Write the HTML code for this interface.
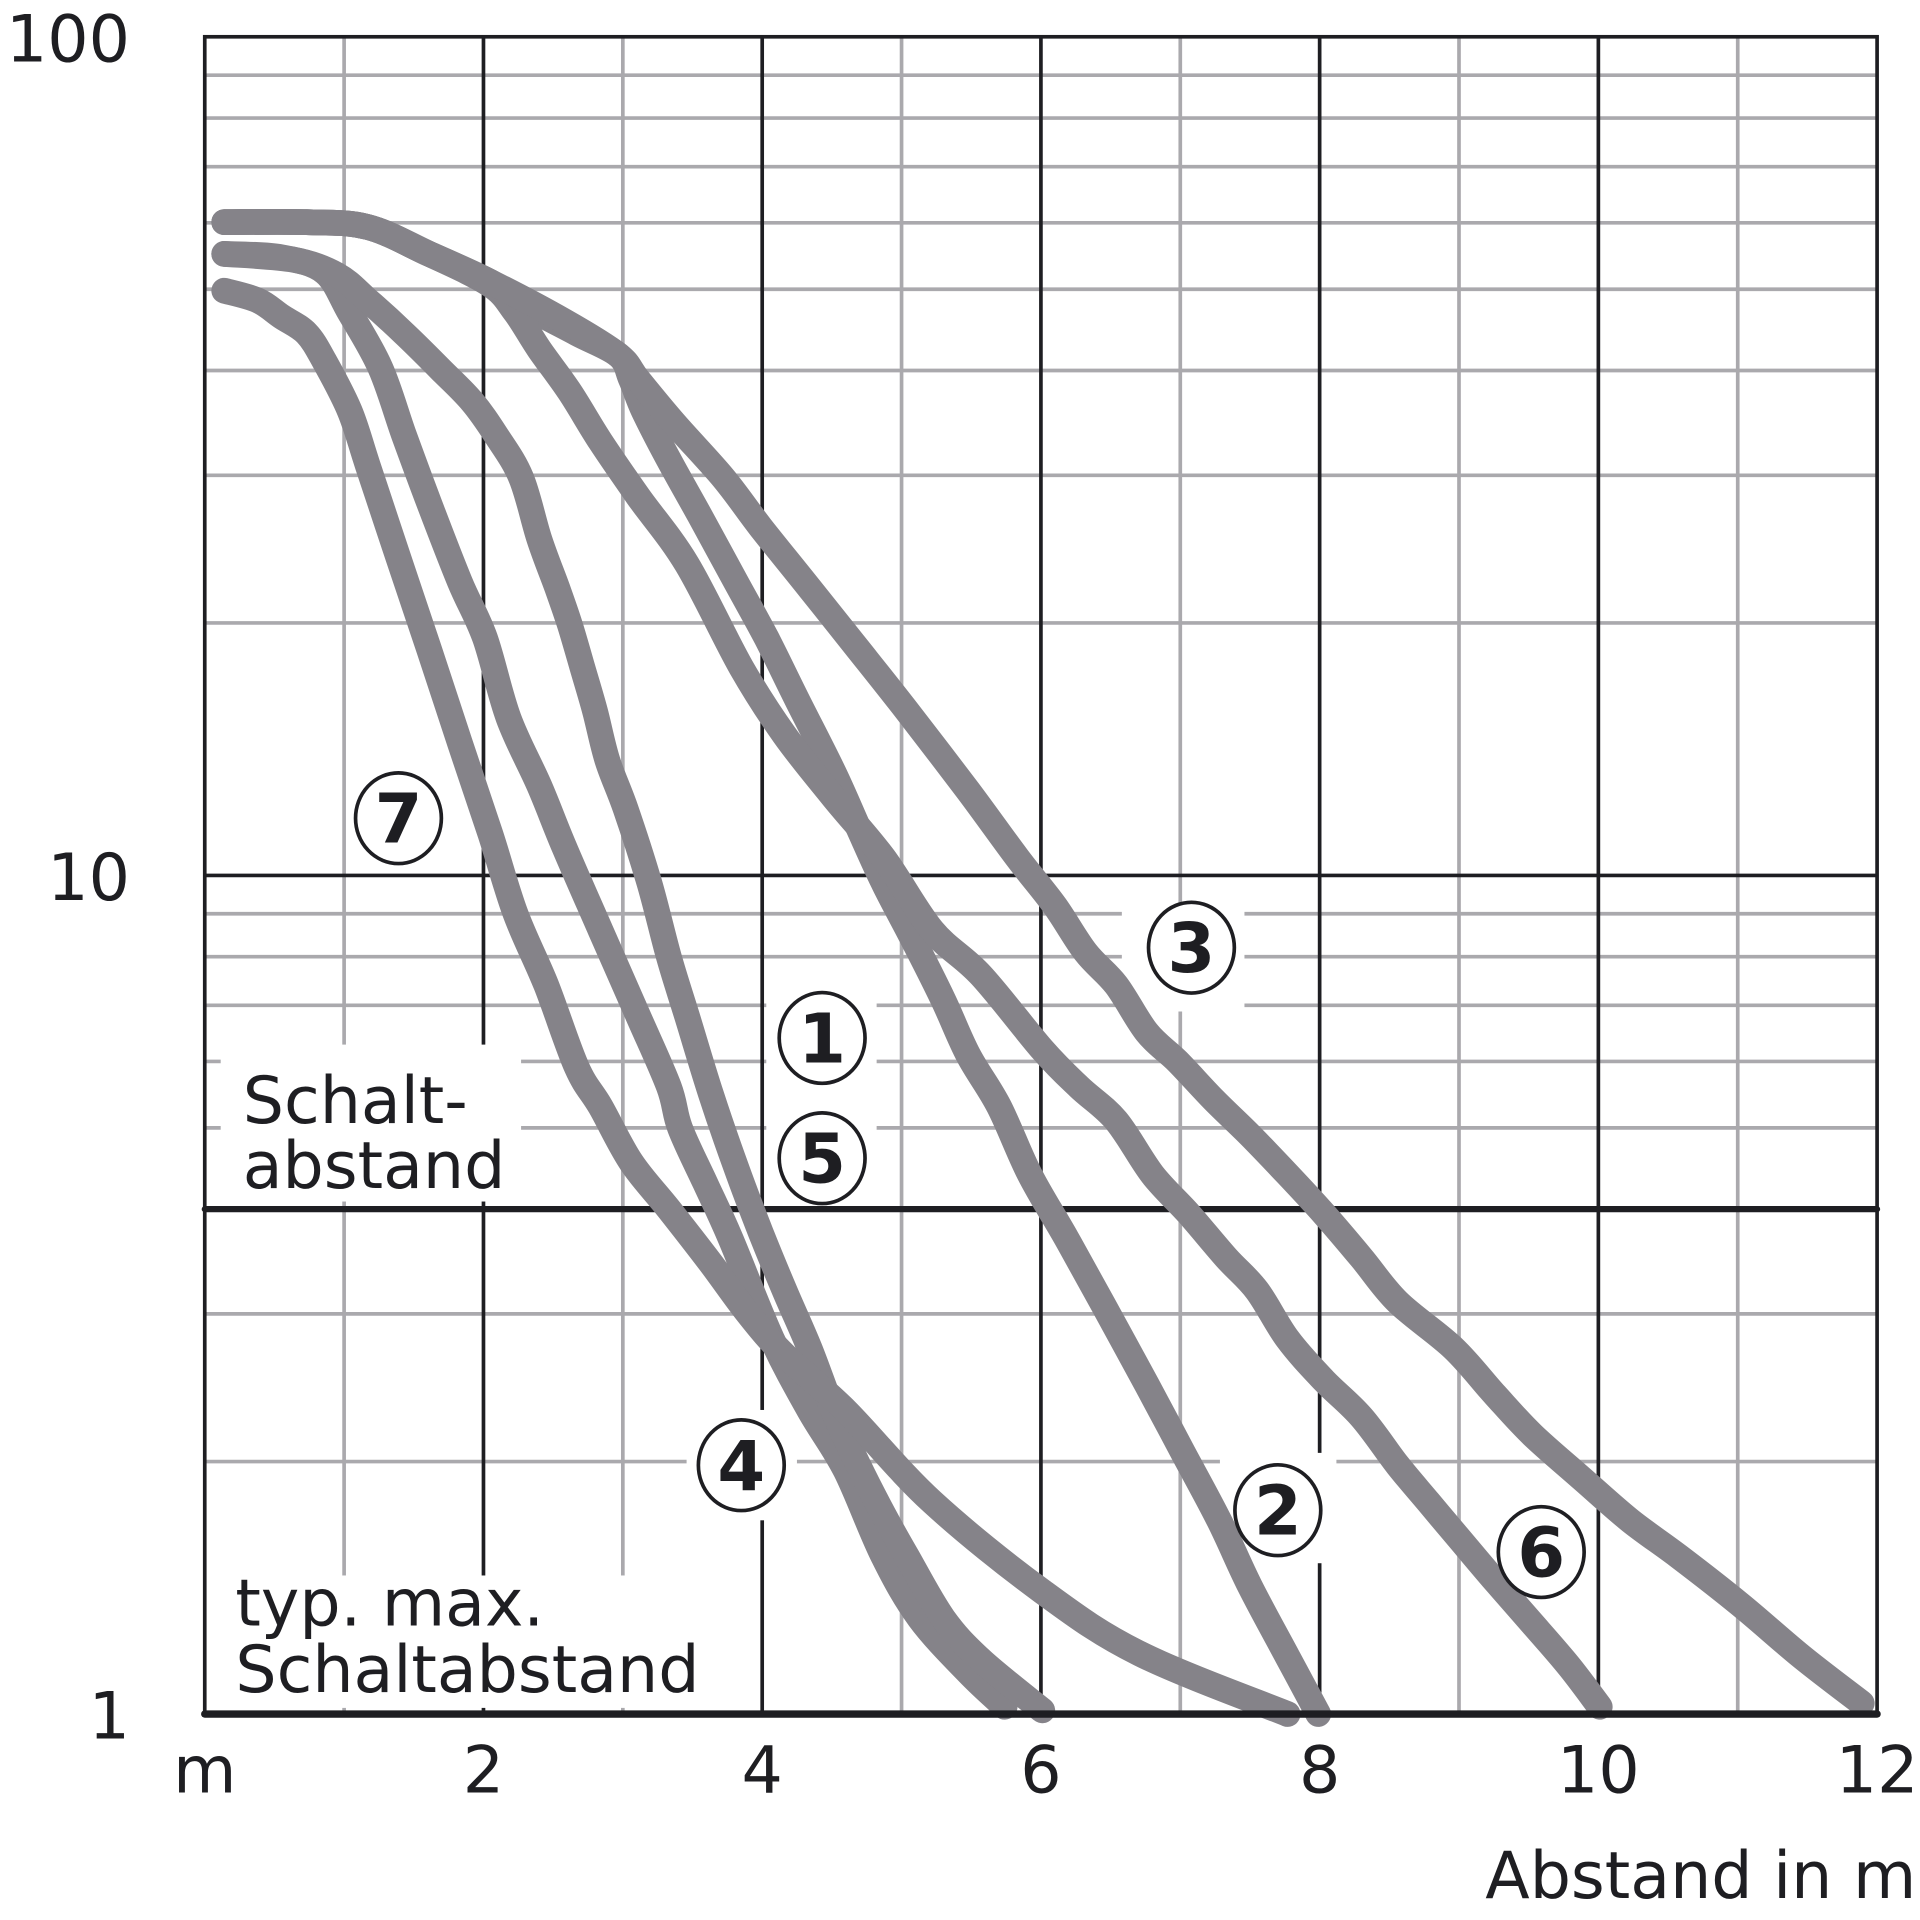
<!DOCTYPE html>
<html><head><meta charset="utf-8">
<style>
html,body{margin:0;padding:0;background:#fff;}
svg{display:block;}
text{font-family:"DejaVu Sans","Liberation Sans",sans-serif;fill:#1e1e22;}
</style></head>
<body>
<svg id="chart" width="1920" height="1920" viewBox="0 0 1566 1566" xmlns="http://www.w3.org/2000/svg">
<g id="grid"></g>
<g id="masks"></g>
<g id="curves"></g>
<g id="labels"></g>
<g id="axes"></g>
</svg>
<script>
// ---- data ----
const xTicks = [0, 2, 4, 6, 8, 10, 12];
const xTickLabels = ["m", "2", "4", "6", "8", "10", "12"];
const yTicks = [1, 10, 100];
const yTickLabels = ["1", "10", "100"];
const schaltabstandValue = 4;

const c1x = [0.14,0.55,0.86,1.04,1.26,1.43,1.61,1.83,2.01,2.18,2.40,2.58,2.84,3.11,3.33,3.41,3.59,3.77,4.07,4.34,4.60,4.87,5.13,5.48,5.74];
const c1y = [55.1,54.6,52.4,46.9,40.3,33.5,27.8,22.4,19.2,15.4,12.8,10.8,8.6,6.8,5.6,5.0,4.3,3.7,2.8,2.3,1.95,1.54,1.30,1.12,1.02];
const c5x = [0.14,0.64,0.95,1.17,1.43,1.70,1.92,2.09,2.27,2.40,2.53,2.62,2.71,2.80,2.89,3.02,3.19,3.33,3.46,3.63,3.81,3.99,4.16,4.34,4.51,4.69,4.87,5.04,5.30,5.57,6.01];
const c5y = [55.1,54.2,52.0,48.5,44.3,40.0,36.7,33.5,29.8,25.2,22.0,19.9,17.7,15.7,13.7,12.0,9.8,8.0,6.8,5.5,4.5,3.75,3.2,2.73,2.3,1.98,1.73,1.54,1.30,1.16,1.01];
const c7x = [0.14,0.38,0.55,0.73,0.86,1.04,1.17,1.39,1.61,1.83,2.05,2.23,2.45,2.67,2.84,3.06,3.33,3.63,3.90,4.16,4.60,5.22,6.01,6.71,7.77];
const c7y = [49.8,48.5,46.4,44.3,41.0,35.8,30.8,23.9,18.6,14.4,11.2,9.0,7.4,5.9,5.3,4.55,4.0,3.45,3.0,2.68,2.3,1.79,1.40,1.18,1.0];
const c2x = [0.14,0.73,1.17,1.61,2.05,2.31,2.67,2.97,3.06,3.15,3.33,3.55,3.81,4.03,4.25,4.51,4.69,4.87,5.08,5.30,5.48,5.70,5.92,6.18,6.45,6.76,7.02,7.28,7.50,7.77,7.99];
const c2y = [60.1,60.1,59.3,55.1,51.0,47.7,44.3,41.7,39.0,35.8,31.3,26.9,22.4,19.2,16.2,13.3,11.4,9.8,8.4,7.1,6.1,5.3,4.4,3.7,3.07,2.47,2.05,1.70,1.42,1.17,1.0];
const c6x = [0.14,0.73,1.17,1.61,2.05,2.23,2.40,2.62,2.84,3.11,3.46,3.85,4.16,4.51,4.87,5.22,5.57,6.01,6.27,6.54,6.80,7.06,7.33,7.55,7.77,8.03,8.30,8.56,8.78,9.00,9.26,9.53,9.79,10.01];
const c6y = [60.1,60.1,59.3,55.1,50.6,46.9,42.4,37.7,32.9,28.3,23.5,17.7,14.7,12.4,10.5,8.6,7.6,6.2,5.6,5.1,4.4,3.95,3.5,3.2,2.8,2.5,2.26,1.98,1.79,1.62,1.44,1.28,1.14,1.02];
const c3x = [0.14,0.73,1.17,1.61,2.05,2.58,2.97,3.11,3.37,3.72,3.99,4.34,4.69,5.04,5.48,5.83,6.10,6.32,6.54,6.76,6.98,7.24,7.50,7.77,8.03,8.30,8.56,8.96,9.26,9.53,9.88,10.23,10.58,11.02,11.46,11.89];
const c3y = [60.1,60.1,59.3,55.1,51.0,45.8,41.7,39.0,34.6,29.8,26.0,22.0,18.6,15.7,12.6,10.5,9.2,8.1,7.4,6.5,6.0,5.4,4.9,4.4,3.95,3.5,3.1,2.73,2.4,2.15,1.91,1.70,1.54,1.35,1.17,1.03];

const labelNames = ["7","3","1","5","4","2","6"];
const labelX = [1.39,7.08,4.43,4.43,3.85,7.70,9.59];
const labelY = [11.7,8.2,6.4,4.6,1.98,1.75,1.56];

// ---- scales ----
const X0 = 167, X1 = 1531, Y1 = 1398, Y100 = 30;
const xs = m => X0 + (X1 - X0) * m / 12;
const ys = v => Y1 - (Y1 - Y100) * Math.log10(v) / 2;
const NS = "http://www.w3.org/2000/svg";
function mk(tag, parent, attrs){ const e = document.createElementNS(NS, tag); for (const k in attrs) e.setAttribute(k, attrs[k]); parent.appendChild(e); return e; }
function smoothPath(p){
  let d = 'M' + p[0][0].toFixed(1) + ',' + p[0][1].toFixed(1);
  for (let i = 0; i < p.length - 1; i++) {
    const a = p[Math.max(0, i - 1)], b = p[i], c = p[i + 1], e = p[Math.min(p.length - 1, i + 2)];
    const c1 = [b[0] + (c[0] - a[0]) / 6, b[1] + (c[1] - a[1]) / 6];
    const c2 = [c[0] - (e[0] - b[0]) / 6, c[1] - (e[1] - b[1]) / 6];
    d += ' C' + c1[0].toFixed(1) + ',' + c1[1].toFixed(1) + ' ' + c2[0].toFixed(1) + ',' + c2[1].toFixed(1) + ' ' + c[0].toFixed(1) + ',' + c[1].toFixed(1);
  }
  return d;
}

const grid = document.getElementById('grid');
const masks = document.getElementById('masks');
const curvesG = document.getElementById('curves');
const labelsG = document.getElementById('labels');
const axes = document.getElementById('axes');
const GRAY = "#aaa9ad", BLACK = "#1e1e22";

for (let d = 0; d < 2; d++) {
  for (let k = 2; k <= 9; k++) {
    const v = k * Math.pow(10, d);
    if (v === schaltabstandValue) continue;
    const l = mk('line', grid, {x1: X0, x2: X1, y1: ys(v), y2: ys(v), stroke: GRAY, 'stroke-width': 3});
    
    
  }
}
for (let m = 1; m < 12; m++) {
  const l = mk('line', grid, {x1: xs(m), x2: xs(m), y1: Y100, y2: Y1, stroke: m % 2 ? GRAY : BLACK, 'stroke-width': 3});
  
  
}
const l10 = mk('line', grid, {x1: X0, x2: X1, y1: ys(10), y2: ys(10), stroke: BLACK, 'stroke-width': 3});



const maskRects = [[180,852,245,128],[180,1285,395,108],[625,800,90,178],[560,1150,90,90],[915,740,100,85],[995,1185,95,90],[1210,1215,92,90],[285,620,80,80]];
maskRects.forEach(r => {
  const m = mk('rect', masks, {x: r[0], y: r[1], width: r[2], height: r[3], fill: '#fff'});
  
  
});

const frame = mk('rect', axes, {x: X0, y: Y100, width: X1 - X0, height: Y1 - Y100, fill: 'none', stroke: BLACK, 'stroke-width': 3});


const base = mk('line', axes, {x1: X0, x2: X1, y1: Y1, y2: Y1, stroke: BLACK, 'stroke-width': 6, 'stroke-linecap': 'round'});


const sl = mk('line', grid, {x1: X0, x2: X1, y1: ys(schaltabstandValue), y2: ys(schaltabstandValue), stroke: BLACK, 'stroke-width': 5, 'stroke-linecap': 'round'});



const series = [[c1x,c1y,'curve-1'],[c5x,c5y,'curve-5'],[c7x,c7y,'curve-7'],[c2x,c2y,'curve-2'],[c6x,c6y,'curve-6'],[c3x,c3y,'curve-3']];
series.forEach(s => {
  const pts = s[0].map((m, i) => [xs(m), ys(s[1][i])]);
  const p = mk('path', curvesG, {d: smoothPath(pts), fill: 'none', stroke: '#858389', 'stroke-width': 21, 'stroke-linecap': 'round', 'stroke-linejoin': 'round'});
  
  
});

labelNames.forEach((n, i) => {
  const cx = xs(labelX[i]), cy = ys(labelY[i]);
  const g = mk('g', labelsG, {});
  
  
  mk('ellipse', g, {cx: cx, cy: cy, rx: 35, ry: 37, fill: '#fff', stroke: BLACK, 'stroke-width': 3});
  const t = mk('text', g, {x: cx, y: cy + 20, 'text-anchor': 'middle', 'font-size': 56, 'font-weight': 'bold'});
  t.textContent = n;
});

xTicks.forEach((m, i) => {
  const t = mk('text', axes, {x: xs(m), y: 1462, 'text-anchor': 'middle', 'font-size': 53});
  
  
  t.textContent = xTickLabels[i];
});
yTicks.forEach((v, i) => {
  const t = mk('text', axes, {x: 106, y: ys(v) + 20, 'text-anchor': 'end', 'font-size': 53});
  
  
  t.textContent = yTickLabels[i];
});
const xt = mk('text', axes, {x: 1563, y: 1548, 'text-anchor': 'end', 'font-size': 53});


xt.textContent = 'Abstand in m';

const annots = [[198,916,'Schalt-','schaltabstand-label'],[198,969,'abstand','schaltabstand-label'],[192,1326,'typ. max.','max-schaltabstand-label'],[192,1380,'Schaltabstand','max-schaltabstand-label']];
annots.forEach(a => {
  const t = mk('text', axes, {x: a[0], y: a[1], 'font-size': 53});
  
  
  t.textContent = a[2];
});
</script>
</body></html>
